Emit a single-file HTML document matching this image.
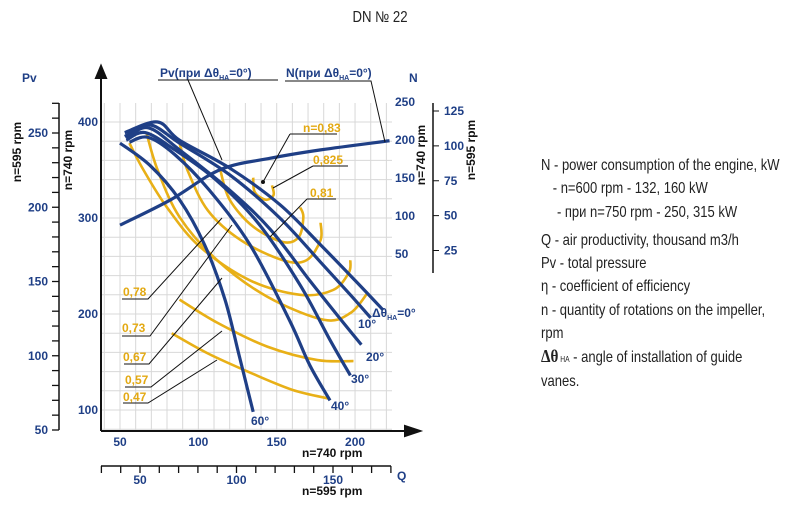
<!DOCTYPE html>
<html><head><meta charset="utf-8"><style>
body{margin:0;background:#fff;}
svg{display:block;font-family:"Liberation Sans",Arial,sans-serif;}
.b{fill:#1f3f86;font-weight:bold;font-size:12px;}
.y{fill:#e3a912;font-weight:bold;font-size:12px;}
.k{fill:#111;font-weight:bold;font-size:12px;}
.t{font-family:"Liberation Sans",sans-serif;font-size:15.5px;fill:#222;}
</style></head><body>
<svg id="c" width="800" height="507" viewBox="0 0 800 507">
<text x="0" y="0" text-anchor="middle" class="t" transform="translate(380,22) scale(0.85,1)" fill="#333">DN № 22</text>
<g id="grid"></g>
<g id="axes"></g>
<g id="yel"></g>
<g id="blue"></g>
<g id="lab"></g>
<g transform="translate(541,0) scale(0.84,1)">
<text class="t" x="0" y="170">N - power consumption of the engine, kW</text>
<text class="t" x="14" y="193">- n=600 rpm - 132, 160 kW</text>
<text class="t" x="19" y="217">- при n=750 rpm - 250, 315 kW</text>
<text class="t" x="0" y="245">Q - air productivity, thousand m3/h</text>
<text class="t" x="0" y="268">Pv - total pressure</text>
<text class="t" x="0" y="291">η - coefficient of efficiency</text>
<text class="t" x="0" y="315">n - quantity of rotations on the impeller,</text>
<text class="t" x="0" y="338">rpm</text>
<text class="t" x="0" y="362"><tspan font-family="Liberation Serif" font-weight="bold" font-size="18">Δθ</tspan><tspan font-size="8"> НА</tspan> - angle of installation of guide</text>
<text class="t" x="0" y="386">vanes.</text>
</g>
</svg>
<script>
const qTicks740=[50,100,150,200];
const pTicks740=[100,200,300,400];
const pTicks595=[50,100,150,200,250];
const nTicks740=[50,100,150,200,250];
const nTicks595=[25,50,75,100,125];
const qTicks595=[50,100,150];
const angleNames=["0°","10°","20°","30°","40°","60°"];
const curve0q=[53,74,88,120,152,178,200,218], curve0p=[389,400,381,352,314,272,235,204];
const curve10q=[53,69,88,120,152,178,197,210], curve10p=[385,397,378,345,300,254,220,196];
const curve20q=[54,68,88,120,146,171,191,204], curve20p=[383,394,371,329,288,235,194,168];
const curve30q=[54,66,85,111,139,165,184,197], curve30p=[381,389,371,340,293,230,173,136];
const curve40q=[56,68,85,107,133,158,171,184], curve40p=[379,384,366,329,272,194,147,110];
const curve60q=[50,69,88,104,117,126,135], curve60p=[378,355,319,272,215,157,98];
const powerQ=[50,82,114,146,178,222], powerN=[88,121,161,176,187,199];
const eff=[0.83,0.825,0.81,0.78,0.73,0.67,0.57];
const e083q=[135,136,143,148,147], e083p=[342,327,319,324,334];
const e0825q=[114,120,135,154,164,167,165], e0825p=[350,319,291,275,280,301,311];
const e081q=[88,93,106,127,154,169,178,178], e081p=[378,350,308,277,256,256,277,295];
const e078q=[56,65,80,101,133,165,186,196,197], e078p=[378,350,311,270,235,220,225,243,256];
const e073q=[67,74,88,112,144,180,197,208], e073p=[388,350,301,256,218,194,201,222];
const e067q=[88,112,144,176,199], e067p=[215,191,166,152,151];
const e057q=[83,106,133,160,183], e057p=[180,159,139,121,112];

const X=q=>120+(q-50)*1.567, Y=p=>410-(p-100)*0.96, Y5=p=>430-(p-50)*1.485;
const YN=n=>102+(250-n)*0.76, YN5=n=>111+(125-n)*1.395, X5=q=>140+(q-50)*1.93;
const NS="http://www.w3.org/2000/svg";
function mk(tag,attrs,parent,txt){const e=document.createElementNS(NS,tag);for(const k in attrs)e.setAttribute(k,attrs[k]);if(txt!==undefined)e.textContent=txt;document.getElementById(parent).appendChild(e);return e;}
function smooth(xs,ys){const P=xs.map((q,i)=>[X(q),ys[i]]);let d=`M${P[0][0]},${P[0][1]}`;for(let i=0;i<P.length-1;i++){const p0=P[i-1]||P[i],p1=P[i],p2=P[i+1],p3=P[i+2]||p2;d+=` C${p1[0]+(p2[0]-p0[0])/6},${p1[1]+(p2[1]-p0[1])/6} ${p2[0]-(p3[0]-p1[0])/6},${p2[1]-(p3[1]-p1[1])/6} ${p2[0]},${p2[1]}`;}return d;}
for(let q=40;q<=220;q+=10){const g=mk('line',{x1:X(q),x2:X(q),y1:103,y2:431,stroke:'#d8d8d8','stroke-width':1},'grid');

}
for(let p=80;p<=430;p+=20){if(Y(p)<103||Y(p)>431)continue;const g=mk('line',{x1:101,x2:392,y1:Y(p),y2:Y(p),stroke:'#d8d8d8','stroke-width':1},'grid');

}
mk('path',{d:'M101,431 V75 M101,66 l-5,12 h10 z M101,431 H405 M420,431 l-15,-5 v10 z',stroke:'#111','stroke-width':2,fill:'#111'},'axes');
qTicks740.forEach(q=>{const t=mk('text',{x:X(q),y:446,class:'b','text-anchor':'middle'},'axes',q);

});
pTicks740.forEach(p=>{const t=mk('text',{x:98,y:Y(p)+4,class:'b','text-anchor':'end'},'axes',p);

});
mk('line',{x1:59,x2:59,y1:103,y2:430,stroke:'#111','stroke-width':1.5},'axes');
for(let p=50;p<=270;p+=10){mk('line',{x1:52,x2:59,y1:Y5(p),y2:Y5(p),stroke:'#111','stroke-width':1.3},'axes');}
pTicks595.forEach(p=>{const t=mk('text',{x:48,y:Y5(p)+4,class:'b','text-anchor':'end'},'axes',p);

});
mk('text',{x:22,y:82,class:'b'},'axes','Pv');
mk('text',{x:0,y:0,class:'k',transform:'translate(21,152) rotate(-90)','text-anchor':'middle'},'axes','n=595  rpm');
mk('text',{x:0,y:0,class:'k',transform:'translate(72,160) rotate(-90)','text-anchor':'middle'},'axes','n=740 rpm');
nTicks740.forEach(n=>{const t=mk('text',{x:395,y:YN(n)+4,class:'b'},'axes',n);

});
mk('text',{x:409,y:82,class:'b'},'axes','N');
mk('line',{x1:433,x2:433,y1:103,y2:273,stroke:'#111','stroke-width':1.5},'axes');
nTicks595.forEach(n=>{mk('line',{x1:433,x2:439,y1:YN5(n),y2:YN5(n),stroke:'#111'},'axes');const t=mk('text',{x:444,y:YN5(n)+4,class:'b'},'axes',n);

});
mk('text',{x:0,y:0,class:'k',transform:'translate(425,155) rotate(-90)','text-anchor':'middle'},'axes','n=740 rpm');
mk('text',{x:0,y:0,class:'k',transform:'translate(475,150) rotate(-90)','text-anchor':'middle'},'axes','n=595 rpm');
mk('line',{x1:101,x2:391,y1:466,y2:466,stroke:'#111','stroke-width':1.5},'axes');
for(let q=30;q<=180;q+=10){const x=X5(q);if(x>392)break;mk('line',{x1:x,x2:x,y1:466,y2:473,stroke:'#111','stroke-width':1.3},'axes');}
qTicks595.forEach(q=>{const t=mk('text',{x:X5(q),y:484,class:'b','text-anchor':'middle'},'axes',q);

});
mk('text',{x:397,y:480,class:'b','font-size':14},'axes','Q');
mk('text',{x:302,y:457,class:'k'},'axes','n=740 rpm');
mk('text',{x:302,y:495,class:'k'},'axes','n=595 rpm');
const effQ=[e083q,e0825q,e081q,e078q,e073q,e067q,e057q], effP=[e083p,e0825p,e081p,e078p,e073p,e067p,e057p];
effQ.forEach((qs,i)=>{const e=mk('path',{d:smooth(qs,effP[i].map(Y)),stroke:'#e8b017','stroke-width':2.6,fill:'none'},'yel');

});
const bq=[curve0q,curve10q,curve20q,curve30q,curve40q,curve60q], bp=[curve0p,curve10p,curve20p,curve30p,curve40p,curve60p];
bq.forEach((qs,i)=>{const e=mk('path',{d:smooth(qs,bp[i].map(Y)),stroke:'#1f3f86','stroke-width':3.2,fill:'none'},'blue');

});
const pw=mk('path',{d:smooth(powerQ,powerN.map(YN)),stroke:'#1f3f86','stroke-width':3.2,fill:'none'},'blue');


[[386,316,'Δθ'],[358,328,'10°'],[366,361,'20°'],[351,383,'30°'],[331,410,'40°'],[251,425,'60°']].forEach((a,i)=>{
if(i===0){const t=mk('text',{x:372,y:317,class:'b'},'lab');t.innerHTML='Δθ<tspan font-size="7" dy="3">НА</tspan><tspan dy="-3">=0°</tspan>';}
else mk('text',{x:a[0],y:a[1],class:'b'},'lab',a[2]);});
const L=[['M158,80 H278 M188,80 L222,160'],['M285,81 H371 L385,142'],['M290,134 H337 M290,134 L263,182'],['M313,166 H348 M313,166 L273,188'],['M307,199 H336 M307,199 L270,237'],['M122,299 H148 L222,218'],['M122,336 H150 L232,225'],['M124,364 H149 L222,278'],['M125,387 H151 L222,331'],['M123,403 H148 L217,360']];
L.forEach(l=>mk('path',{d:l[0],stroke:'#111','stroke-width':1,fill:'none'},'lab'));
mk('circle',{cx:263,cy:182,r:2,fill:'#111'},'lab');
let t=mk('text',{x:160,y:77,class:'b'},'lab');t.innerHTML='Pv(при Δθ<tspan font-size="7" dy="3">НА</tspan><tspan dy="-3">=0°)</tspan>';
t=mk('text',{x:286,y:77,class:'b'},'lab');t.innerHTML='N(при Δθ<tspan font-size="7" dy="3">НА</tspan><tspan dy="-3">=0°)</tspan>';
[[303,132,'n=0,83'],[313,164,'0,825'],[310,197,'0,81'],[123,296,'0,78'],[122,332,'0,73'],[123,361,'0,67'],[125,384,'0,57'],[123,401,'0,47']].forEach(a=>{const e=mk('text',{x:a[0],y:a[1],class:'y'},'lab',a[2]);

});
</script>
</body></html>
